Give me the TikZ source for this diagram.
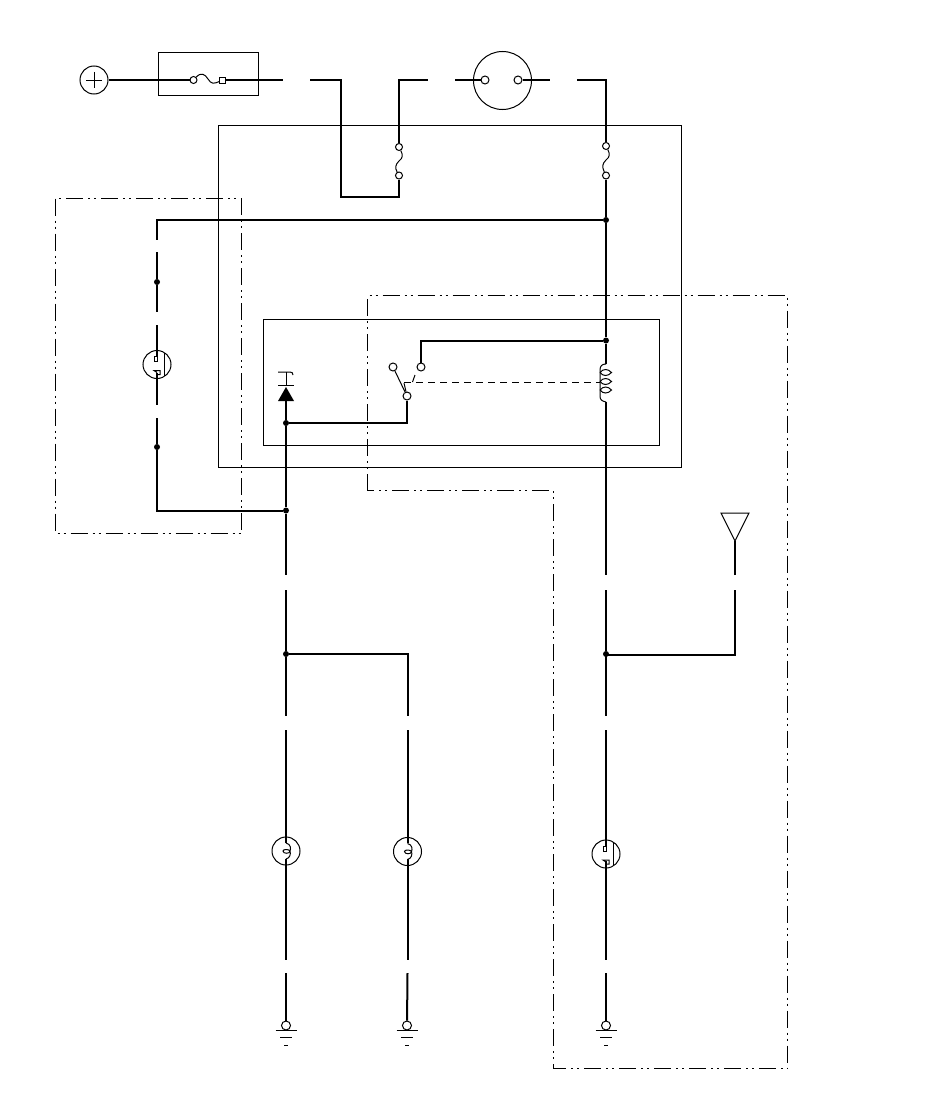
\documentclass[tikz,border=0pt]{standalone}
\tikzset{
  wire/.style={line width=2pt,line join=miter},
  thin line/.style={line width=1pt},
  ddash/.style={line width=1pt,dash pattern=on 17pt off 5pt on 2pt off 4pt on 2pt off 5pt},
  jdot/.style={circle,fill=black,draw=none,inner sep=0pt,minimum size=6pt},
  term/.style={circle,draw=black,fill=white,line width=1pt,inner sep=0pt,minimum size=8pt},
  smallterm/.style={circle,draw=black,fill=white,line width=1pt,inner sep=0pt,minimum size=7pt},
  ring/.style={circle,draw=black,line width=1pt,inner sep=0pt},
  panel/.style={draw=black,line width=1pt,inner sep=0pt},
  lampa/.pic={
    \draw[thin line] (7,-12)--(7,11);
    \draw[thin line] (0,-8)--(-3,-8)--(-3,-3)--(0,-3)--(0,-8);
    \draw[thin line] (0,8)--(-3,6)--(3,6)--(3,10)--(0,10);
  },
  lampb/.pic={
    \draw[thin line] (0,-8) .. controls (5,-7) and (5,-2) .. (4,0) .. controls (4,3) and (-3,3) .. (-3,0) .. controls (-3,-2) and (3,-2) .. (4,0) .. controls (5,3) and (4,7) .. (0,8);
  },
  grnd/.pic={
    \draw[thin line] (-10.5,5)--(10.5,5) (-6,12)--(6,12) (-2,20)--(2,20);
  }
}
\begin{document}
\begin{tikzpicture}[x=1pt,y=-1pt]
\useasboundingbox (0,0) rectangle (950,1108);
% boxes
\node[panel,minimum width=100pt,minimum height=43pt] (fusebox) at (208.5,74) {};
\node[panel,minimum width=463pt,minimum height=342pt] (outerbox) at (450,296.5) {};
\node[panel,minimum width=396pt,minimum height=126pt] (innerbox) at (461.5,382.5) {};
\draw[ddash] (55.5,198.5) rectangle (241.5,533.5);
\draw[ddash] (367.5,490.5)--(367.5,295.5)--(787.5,295.5)--(787.5,1068.5)--(553.5,1068.5)--(553.5,490.5)--cycle;
% named points
\node[ring,minimum size=28pt] (plus) at (94,80) {};
\draw[thin line] (plus.center)+(-8,0)--+(8,0) (plus.center)+(0,-8)--+(0,8);
\node[smallterm] (f1a) at (193.5,80) {};
\node[smallterm,rectangle,minimum size=6pt] (f1b) at (222.5,80) {};
\draw[thin line] (f1a) .. controls (201,72) and (205,74) .. (208,79) .. controls (211,84) and (214,84) .. (f1b);
\coordinate (w1e) at (283,80);
\draw[wire] (plus)--(f1a);
\draw[wire] (f1b)--(w1e);
% fuse 2
\coordinate (w2a) at (310,80); \coordinate (w2b) at (341,80); \coordinate (w2c) at (341,197); \coordinate (w2d) at (399,197);
\node[smallterm] (f2b) at (399,175.5) {};
\node[smallterm] (f2a) at (399,147) {};
\draw[thin line] (f2a) .. controls (403,155) and (403,158) .. (399,161) .. controls (395,165) and (395,168) .. (f2b);
\coordinate (w3t) at (399,80); \coordinate (w3e) at (428,80);
\draw[wire] (w2a)--(w2b)--(w2c)--(w2d)--(f2b);
\draw[wire] (f2a)--(w3t)--(w3e);
% horn circle
\node[ring,minimum size=58pt] (bigring) at (502.5,80.5) {};
\node[smallterm,minimum size=8pt] (ba) at (485,80) {};
\node[smallterm,minimum size=8pt] (bb) at (518,80) {};
\coordinate (w4a) at (455,80); \coordinate (w4b) at (550,80);
\draw[wire] (w4a)--(ba);
\draw[wire] (bb)--(w4b);
% fuse 3
\coordinate (w5a) at (577,80); \coordinate (w5b) at (606,80);
\node[smallterm] (f3a) at (606,146) {};
\node[smallterm] (f3b) at (606,175.5) {};
\draw[thin line] (f3a) .. controls (610,154) and (610,157) .. (606,160) .. controls (602,164) and (602,167) .. (f3b);
\draw[wire] (w5a)--(w5b)--(f3a);
% right trunk
\node[jdot] (j220) at (606,220) {};
\node[jdot] (j340) at (606,340.5) {};
\coordinate (coilt) at (606,364);
\coordinate (coilb) at (606,402);
\coordinate (r1e) at (606,575);
\draw[wire] (f3b)--(j220)--(j340)--(coilt);
\draw[wire] (coilb)--(r1e);
\draw[thin line] (coilt) .. controls (602,364) and (600,366) .. (600,370)--(600,396) .. controls (600,400) and (602,401) .. (coilb);
\foreach \cy in {372.5,381.5,390} {
  \draw[thin line,fill=white] (600,\cy) .. controls (603,\cy-4) and (608,\cy-4) .. (611.5,\cy) .. controls (608,\cy+4) and (603,\cy+4) .. (600,\cy);
}
% left loop
\coordinate (l1) at (157,220);
\coordinate (l2) at (157,240);
\coordinate (l3) at (157,252);
\coordinate (l4) at (157,312);
\coordinate (l5) at (157,325);
\coordinate (l6) at (157,405);
\coordinate (l7) at (157,418);
\coordinate (l8) at (157,510.5);
\node[jdot] (j282) at (157,282) {};
\node[jdot] (j447) at (157,447) {};
\node[jdot] (j510) at (286,510.5) {};
\draw[wire] (j220)--(l1)--(l2);
\draw[wire] (l3)--(j282)--(l4);
\draw[wire] (l5)--(157,357);
\draw[wire] (157,373)--(l6);
\draw[wire] (l7)--(j447)--(l8)--(j510);
\node[ring,minimum size=28pt] (lamp1) at (157,364.5) {};
\pic at (lamp1.center) {lampa};
% diode
\coordinate (dtop) at (286,372);
\coordinate (dbar) at (286,385.5);
\coordinate (dtip) at (286,387);
\draw[thin line] (dtop)--(dbar);
\draw[thin line] (278,372)--(290,372) .. controls (292,372) and (293,373) .. (293,375);
\draw[line width=1.5pt] (278,385.5)--(294,385.5);
\fill (dtip)--(278,401)--(294,401)--cycle;
\coordinate (dbase) at (286,401);
\node[jdot] (j423) at (286,423) {};
\coordinate (s1) at (407,423);
\node[smallterm,minimum size=8pt] (sw0) at (407,396) {};
\coordinate (c1e) at (286,575);
\draw[wire] (dbase)--(j423)--(j510)--(c1e);
\draw[wire] (j423)--(s1)--(sw0);
% switch
\node[term] (sw1) at (393,367) {};
\node[term] (sw2) at (421,367) {};
\coordinate (s2) at (421,340.5);
\draw[wire] (sw2)--(s2)--(j340);
\draw[thin line] (sw1)--(sw0);
\draw[thin line] (404,383)--(sw0);
\draw[thin line,dash pattern=on 7pt off 5pt] (404,382.5)--(600,382.5);
\draw[thin line] (412.5,382)--(415,375);
% center bottom
\coordinate (c2) at (286,590);
\coordinate (c3) at (286,716);
\coordinate (c4) at (286,730);
\coordinate (c5) at (286,960);
\coordinate (c6) at (286,973);
\node[jdot] (j654l) at (286,654) {};
\coordinate (m1) at (407.5,654);
\coordinate (m2) at (407.5,716);
\coordinate (m3) at (407.5,730);
\coordinate (m4) at (407.5,960);
\coordinate (m5) at (407.5,973);
\draw[wire] (c2)--(j654l)--(c3);
\draw[wire] (j654l)--(m1)--(m2);
\node[ring,minimum size=28pt] (lamp2) at (286,851) {};
\node[ring,minimum size=28pt] (lamp3) at (407.5,851.5) {};
\draw[wire] (c4)--(286,843);
\draw[wire] (286,859)--(c5);
\draw[wire] (m3)--(407.5,843);
\draw[wire] (407.5,859)--(m4);
\pic at (lamp2.center) {lampb};
\pic at (lamp3.center) {lampb};
% right bottom
\coordinate (r2) at (606,590);
\coordinate (r3) at (606,716);
\coordinate (r4) at (606,730);
\coordinate (r5) at (606,960);
\coordinate (r6) at (606,973);
\node[jdot] (j654r) at (606,654) {};
\coordinate (a1) at (735,655);
\coordinate (a2) at (735,590);
\coordinate (a3) at (735,575);
\coordinate (a4) at (735,541);
\draw[wire] (r2)--(j654r)--(r3);
\draw[wire] (j654r)--(606,655)--(a1)--(a2);
\draw[wire] (a3)--(a4);
\draw[thin line,line join=miter] (721,513)--(749,513)--(a4)--cycle;
\node[ring,minimum size=28pt] (lamp4) at (606,854) {};
\draw[wire] (r4)--(606,846);
\draw[wire] (606,861)--(r5);
\pic at (lamp4.center) {lampa};
% grounds
\node[smallterm,minimum size=9pt] (g1) at (286,1025.5) {};
\node[smallterm,minimum size=9pt] (g2) at (407,1025.5) {};
\node[smallterm,minimum size=9pt] (g3) at (606,1025.5) {};
\draw[wire] (c6)--(g1);
\draw[wire] (m5)--(g2);
\draw[wire] (r6)--(g3);
\pic at (g1.center) {grnd};
\pic at (g2.center) {grnd};
\pic at (g3.center) {grnd};
\end{tikzpicture}
\end{document}
